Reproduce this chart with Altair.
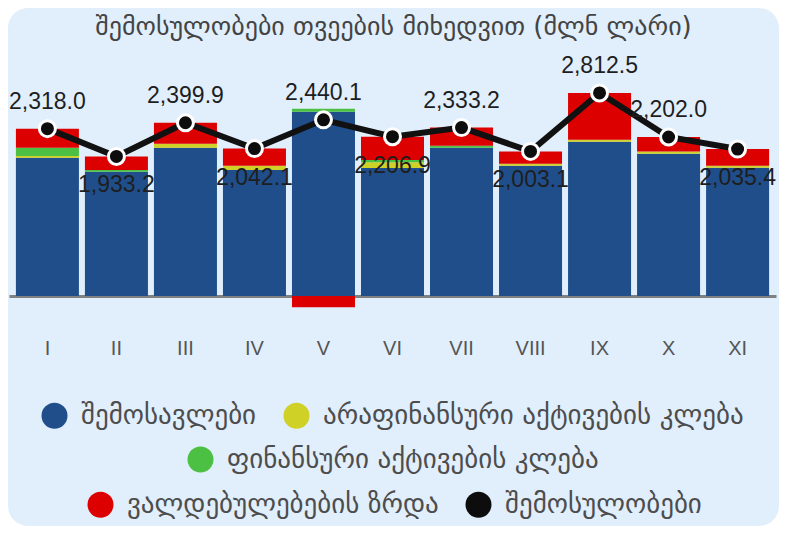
import altair as alt
import pandas as pd

# ---------------- data ----------------
months = ["I", "II", "III", "IV", "V", "VI", "VII", "VIII", "IX", "X", "XI"]
revenues = [1915, 1722, 2054, 1745, 2553, 1773, 2053, 1805, 2137, 1971, 1777]
nonfin_sales = [25, 0, 55, 60, 0, 78, 0, 28, 28, 32, 28]
fin_sales = [115, 23, 0, 0, 42, 33, 28, 0, 0, 0, 0]
liab_growth = [263.0, 188.2, 290.9, 237.1, -154.9, 322.9, 252.2, 170.1, 647.5, 199.0, 230.4]
receipts = [2318.0, 1933.2, 2399.9, 2042.1, 2440.1, 2206.9, 2333.2, 2003.1, 2812.5, 2202.0, 2035.4]

series_names = [
    "შემოსავლები",
    "არაფინანსური აქტივების კლება",
    "ფინანსური აქტივების კლება",
    "ვალდებულებების ზრდა",
    "შემოსულობები",
]
colors = ["#1f4e8b", "#cfd126", "#4cc043", "#dd0000", "#0d0d0d"]
title_text = "შემოსულობები თვეების მიხედვით (მლნ ლარი)"

# ---------------- tables ----------------
rows = []
for i, m in enumerate(months):
    for k, vals in enumerate([revenues, nonfin_sales, fin_sales, liab_growth]):
        rows.append({"month": m, "idx": i, "series": series_names[k], "order": k, "value": vals[i]})
bars_df = pd.DataFrame(rows)
line_df = pd.DataFrame({"month": months, "idx": list(range(len(months))), "receipts": receipts,
                        "series": series_names[4]})

W, H = 771, 518
GEO = "DejaVu Sans"
NUM = "Liberation Sans"
TXT = "#4d4d4d"

x_enc = alt.X(
    "month:N",
    sort=months,
    scale=alt.Scale(range=[1, 768], paddingInner=0.087, paddingOuter=0.1),
    axis=alt.Axis(
        title=None, orient="bottom", offset=-230, domain=True, domainColor="#808080",
        domainWidth=3, ticks=False, tickSize=0, labelPadding=42, labelAngle=0,
        labelFont=NUM, labelFontSize=20, labelColor="#555555", grid=False,
    ),
)
y_scale = alt.Scale(domain=[0, 3000], range=[288, 71.4], nice=False, zero=False)


def legend(lx, ly):
    return alt.Legend(
        orient="none", legendX=lx, legendY=ly, direction="horizontal", title=None,
        symbolType="circle", symbolSize=676, symbolStrokeWidth=0, symbolOpacity=1,
        labelFont=GEO, labelFontSize=27, labelColor=TXT, labelOffset=13,
        columnPadding=26, padding=0, labelLimit=1000,
    )


stacked = alt.Chart(bars_df).transform_stack(
    stack="value", as_=["y0", "y1"], groupby=["month"], sort=[alt.SortField("order", order="ascending")]
)


def bar_layer(names, cols, lx, ly):
    return stacked.transform_filter(
        alt.FieldOneOfPredicate(field="series", oneOf=names)
    ).mark_bar(strokeWidth=0).encode(
        x=x_enc,
        y=alt.Y("y0:Q", scale=y_scale, axis=None),
        y2="y1:Q",
        color=alt.Color("series:N", scale=alt.Scale(domain=names, range=cols), legend=legend(lx, ly)),
    )


bars_a = bar_layer(series_names[0:2], colors[0:2], 33, 394)
bars_b = bar_layer(series_names[2:3], colors[2:3], 179, 438)
bars_c = bar_layer(series_names[3:5], colors[3:5], 79, 483)

line_base = alt.Chart(line_df)
line = line_base.mark_line(color="#111111", strokeWidth=6).encode(
    x=x_enc, y=alt.Y("receipts:Q", scale=y_scale, axis=None)
)
points = line_base.mark_circle(size=256, opacity=1, color="#0d0d0d", stroke="white", strokeWidth=3).encode(
    x=x_enc, y=alt.Y("receipts:Q", scale=y_scale, axis=None)
)

lbl = line_base.transform_window(
    prev_val="lag(receipts)", next_val="lead(receipts)",
    sort=[alt.SortField("idx")], frame=[None, None],
).transform_calculate(
    below="datum.prev_val != null && datum.receipts < datum.prev_val && (datum.next_val == null || datum.receipts < datum.next_val)"
)
lbl_above = lbl.transform_filter("!datum.below").mark_text(
    font=NUM, fontSize=23, color="#1e1e1e", baseline="alphabetic", dy=-20
).encode(x=x_enc, y=alt.Y("receipts:Q", scale=y_scale, axis=None), text=alt.Text("receipts:Q", format=",.1f"))
lbl_below = lbl.transform_filter("datum.below").mark_text(
    font=NUM, fontSize=23, color="#1e1e1e", baseline="alphabetic", dy=36
).encode(x=x_enc, y=alt.Y("receipts:Q", scale=y_scale, axis=None), text=alt.Text("receipts:Q", format=",.1f"))

chart = alt.layer(bars_a, bars_b, bars_c, line, points, lbl_above, lbl_below).resolve_scale(
    color="independent"
).properties(
    width=W, height=H, padding=0,
    autosize=alt.AutoSizeParams(type="none"),
    title=alt.TitleParams(text=title_text, font=GEO, fontSize=26, fontWeight="normal",
                          color="#444444", anchor="middle", offset=-32),
).configure(background="white").configure_view(fill="#e1effd", cornerRadius=20, strokeWidth=0)

chart.save("out.html", embed_options={"renderer": "svg", "actions": False})
